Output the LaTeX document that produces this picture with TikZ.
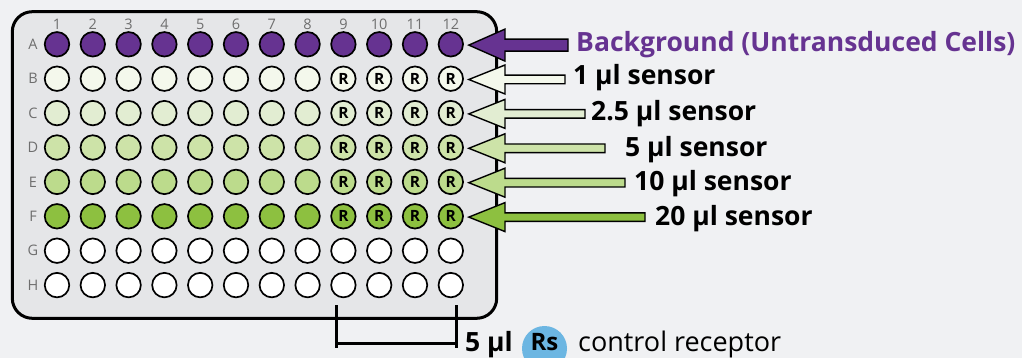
\documentclass[tikz,border=0pt]{standalone}
\usepackage{fontspec}
\setmainfont{Open Sans}
\usetikzlibrary{calc}
\definecolor{bgc}{RGB}{240,241,243}
\definecolor{platec}{RGB}{229,230,232}
\definecolor{purp}{RGB}{102,51,145}
\definecolor{rowB}{RGB}{244,248,236}
\definecolor{rowC}{RGB}{226,237,210}
\definecolor{rowD}{RGB}{205,227,168}
\definecolor{rowE}{RGB}{188,219,140}
\definecolor{rowF}{RGB}{141,192,64}
\definecolor{labgray}{RGB}{110,110,110}
\definecolor{rsblue}{RGB}{108,182,226}
\tikzset{
  well/.style={circle, draw=black, line width=1.7pt, minimum size=24.5pt, inner sep=0pt,
    font=\fontsize{15.5}{15.5}\selectfont\bfseries},
  idx/.style={text=labgray, inner sep=0pt, font=\fontsize{14.5}{14.5}\selectfont},
  fat/.style={draw=black, line width=1.4pt, line join=miter},
  lbl/.style={anchor=base west, inner sep=0pt, font=\fontsize{26.5}{26.5}\selectfont\bfseries},
  reg/.style={anchor=base west, inner sep=0pt, font=\fontsize{27}{27}\selectfont},
  brk/.style={line width=3pt},
}
\begin{document}
\begin{tikzpicture}[x=1pt,y=-1pt]
\useasboundingbox (0,0) rectangle (1022,358);
\clip (0,0) rectangle (1022,358);
\fill[bgc] (0,0) rectangle (1022,358);
% plate
\node[draw, line width=3pt, fill=platec, rounded corners=20pt, minimum width=484.4pt,
      minimum height=306.6pt, inner sep=0pt] (plate) at (254.5,165) {};
% column labels
\foreach \j in {1,...,12} {
  \pgfmathsetmacro\xx{57+(\j-1)*35.8}
  \node[idx] (col\j) at (\xx,24) {\j};
}
% wells
\foreach \r/\c [count=\i] in {A/purp,B/rowB,C/rowC,D/rowD,E/rowE,F/rowF,G/white,H/white} {
  \pgfmathsetmacro\yy{44.3+(\i-1)*34.4}
  \node[idx] (row\r) at (33,\yy) {\r};
  \foreach \j in {1,...,12} {
    \pgfmathsetmacro\xx{57+(\j-1)*35.8}
    \pgfmathtruncatemacro\isR{and(and(\i>=2,\i<=6),\j>=9)}
    \node[well, fill=\c] (w\r\j) at (\xx,\yy) {\ifnum\isR=1 R\fi};
  }
}
% arrows
\foreach \r/\c/\e/\hh/\sh [count=\i] in {A/purp/568/16/6, B/rowB/565/14.5/4.3, C/rowC/585/14.5/4.3,
    D/rowD/605/14.5/4.3, E/rowE/625/14.5/4.3, F/rowF/645/14.5/4.3} {
  \pgfmathsetmacro\yy{44.3+(\i-1)*34.4+0.8}
  \draw[fat, fill=\c] ($(w\r12.center)+(18,0.8)$) -- (505,{\yy-\hh}) -- (505,{\yy-\sh}) -- (\e,{\yy-\sh})
     -- (\e,{\yy+\sh}) -- (505,{\yy+\sh}) -- (505,{\yy+\hh}) -- cycle;
}
% labels
\node[lbl, text=purp] (tA) at (576,52) {Background (Untransduced Cells)};
\node[lbl] (tB) at (573,85) {1 µl sensor};
\node[lbl] (tC) at (591,121) {2.5 µl sensor};
\node[lbl] (tD) at (625,157) {5 µl sensor};
\node[lbl] (tE) at (634,191) {10 µl sensor};
\node[lbl] (tF) at (655,225.5) {20 µl sensor};
% bracket
\coordinate (bLt) at (336.7,305);
\coordinate (bLb) at (336.7,348);
\coordinate (bRt) at (456.7,305);
\coordinate (bRb) at (456.7,348);
\draw[brk] (bLt) -- (bLb);
\draw[brk] (bRt) -- (bRb);
\draw[brk] (bLt |- 0,343.3) -- (bRt |- 0,343.3);
% bottom legend
\node[lbl] (five) at (465,351) {5 µl};
\node[circle, fill=rsblue, minimum size=45pt, inner sep=0pt] (rs) at (544.5,348.5) {};
\node[inner sep=0pt, font=\fontsize{24}{24}\selectfont\bfseries] (rst) at ([yshift=6pt]rs.center) {Rs};
\node[reg] (ctl) at (578,351) {control receptor};
\end{tikzpicture}
\end{document}
